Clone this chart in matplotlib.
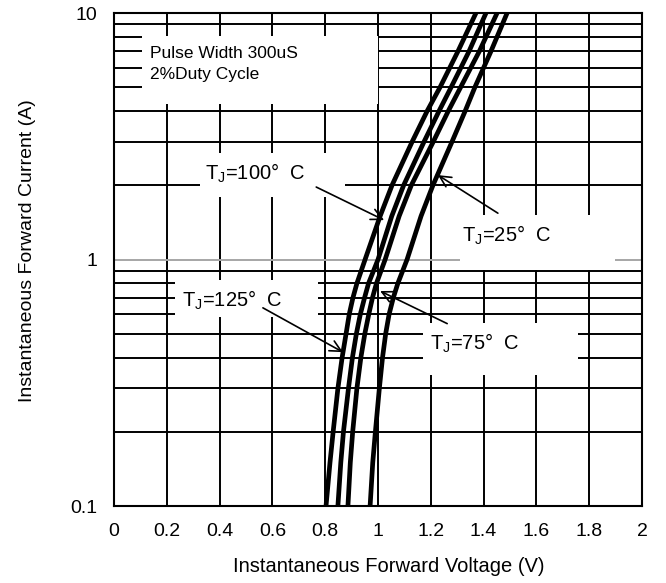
import numpy as np
import matplotlib.pyplot as plt
from matplotlib.patches import Rectangle
from matplotlib.ticker import LogLocator, NullFormatter

plt.rcParams['font.family'] = ['Liberation Sans', 'DejaVu Sans']
plt.rcParams['mathtext.fontset'] = 'custom'
plt.rcParams['mathtext.rm'] = 'Liberation Sans'

# Forward current points (A) and voltages (V)
current = [0.1, 0.15, 0.2, 0.3, 0.4, 0.5, 0.6, 0.7, 0.8, 1, 1.5, 2, 3, 4, 5, 7, 10]
vf_125 = [0.803, 0.818, 0.830, 0.848, 0.864, 0.879, 0.891, 0.905, 0.920, 0.951,
          1.008, 1.053, 1.129, 1.186, 1.235, 1.303, 1.371]
vf_100 = [0.848, 0.859, 0.869, 0.888, 0.903, 0.918, 0.933, 0.949, 0.964, 1.000,
          1.052, 1.097, 1.174, 1.231, 1.277, 1.345, 1.409]
vf_75  = [0.886, 0.895, 0.904, 0.920, 0.935, 0.950, 0.965, 0.979, 0.994, 1.027,
          1.080, 1.126, 1.209, 1.266, 1.313, 1.384, 1.451]
vf_25  = [0.970, 0.980, 0.990, 1.005, 1.017, 1.029, 1.042, 1.058, 1.075, 1.110,
          1.163, 1.208, 1.280, 1.330, 1.367, 1.428, 1.489]

x_ticks = [0, 0.2, 0.4, 0.6, 0.8, 1, 1.2, 1.4, 1.6, 1.8, 2]
x_labels = ['0', '0.2', '0.4', '0.6', '0.8', '1', '1.2', '1.4', '1.6', '1.8', '2']
y_ticks = [0.1, 1, 10]
y_labels = ['0.1', '1', '10']

# curve labels and arrow tips (V, A)
labels = [r'T$_\mathregular{J}$=100°  C', r'T$_\mathregular{J}$=25°  C',
          r'T$_\mathregular{J}$=125°  C', r'T$_\mathregular{J}$=75°  C']
tips = [(1.023, 1.445), (1.227, 2.20), (0.867, 0.421), (1.008, 0.745)]

fig = plt.figure(figsize=(6.66, 5.83), dpi=100)
ax = fig.add_axes([0.1712, 0.132, 0.7928, 0.8457])

ax.set_yscale('log')
ax.set_xlim(0, 2)
ax.set_ylim(0.1, 10)

ax.set_xticks(x_ticks)
ax.set_xticklabels(x_labels)
ax.set_yticks(y_ticks)
ax.set_yticklabels(y_labels)
ax.yaxis.set_minor_locator(LogLocator(base=10, subs=np.arange(2, 10)))
ax.yaxis.set_minor_formatter(NullFormatter())
ax.tick_params(which='both', length=0, labelsize=14)
ax.tick_params(axis='x', pad=12)
ax.tick_params(axis='y', pad=12)

ax.set_axisbelow(True)
ax.grid(which='major', axis='x', color='black', lw=1.4)
ax.grid(which='minor', axis='y', color='black', lw=1.4)
ax.grid(which='major', axis='y', color='#a6a6a6', lw=1.4)
for s in ax.spines.values():
    s.set_linewidth(1.5)
    s.set_zorder(5)

# white panels behind the texts (axes fraction)
panels = [(0.053, 0.815, 0.447, 0.138),
          (0.163, 0.627, 0.275, 0.089),
          (0.655, 0.479, 0.294, 0.111),
          (0.1155, 0.383, 0.271, 0.075),
          (0.585, 0.266, 0.294, 0.105)]
for x0, y0, w, h in panels:
    ax.add_patch(Rectangle((x0, y0), w, h, transform=ax.transAxes,
                           fc='white', ec='none', zorder=1))

for vf in [vf_125, vf_100, vf_75, vf_25]:
    ax.plot(vf, current, color='black', lw=3.4, zorder=3,
            solid_joinstyle='round')

ax.text(0.068, 0.909, 'Pulse Width 300uS', transform=ax.transAxes,
        fontsize=12.5, va='baseline', ha='left', zorder=4)
ax.text(0.068, 0.866, '2%Duty Cycle', transform=ax.transAxes,
        fontsize=12.5, va='baseline', ha='left', zorder=4)

text_pos = [(0.172, 0.661), (0.659, 0.5355), (0.129, 0.4037), (0.598, 0.3164)]
arrow_start = [(0.383, 0.647), (0.727, 0.594), (0.282, 0.402), (0.631, 0.370)]
for lab, tip, tp, st in zip(labels, tips, text_pos, arrow_start):
    ax.text(tp[0], tp[1], lab, transform=ax.transAxes, fontsize=14.5,
            va='baseline', ha='left', zorder=4)
    ax.annotate('', xy=tip, xycoords='data', xytext=st, textcoords='axes fraction',
                arrowprops=dict(arrowstyle='->', color='black', lw=1.2,
                                mutation_scale=20, shrinkA=0, shrinkB=0),
                zorder=4)

ax.set_xlabel('Instantaneous Forward Voltage (V)', fontsize=14.5)
ax.set_ylabel('Instantaneous Forward Current (A)', fontsize=14)
ax.xaxis.set_label_coords(0.521, -0.103)
ax.yaxis.set_label_coords(-0.148, 0.519)

fig.savefig('out.png', dpi=100)
